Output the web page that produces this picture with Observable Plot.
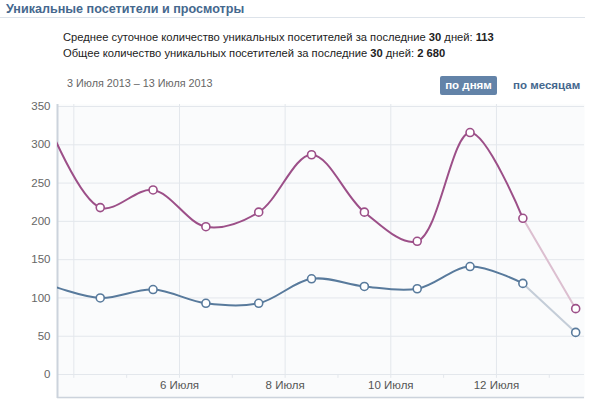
<!DOCTYPE html>
<html><head><meta charset="utf-8">
<script src="https://cdn.jsdelivr.net/npm/d3@7"></script>
<script src="https://cdn.jsdelivr.net/npm/@observablehq/plot@0.6"></script>
<style>
body{margin:0;width:604px;height:399px;background:#fff;position:relative;overflow:hidden;font-family:"Liberation Sans",Arial,sans-serif;}
.abs{position:absolute;white-space:nowrap;line-height:1;}
#title{left:6px;top:3px;font-size:12.6px;font-weight:bold;color:#45688e;}
#rule{left:0;top:17px;width:585px;height:1px;background:#dde3ea;}
#s1{left:63px;top:32px;font-size:11.2px;color:#222;}
#s2{left:63px;top:48px;font-size:11.2px;color:#222;}
#date{left:67px;top:78px;font-size:10.8px;color:#666;}
#btn{left:440px;top:76px;width:57px;height:19px;background:#6383a8;border-radius:2px;color:#fff;font-size:11.5px;font-weight:bold;text-align:center;line-height:19px;}
#mon{left:513px;top:80px;font-size:11.5px;font-weight:bold;color:#45688e;}
#chart{position:absolute;left:0;top:95px;}
b{font-weight:bold;}
</style></head>
<body>
<div class="abs" id="title">Уникальные посетители и просмотры</div>
<div class="abs" id="rule"></div>
<div class="abs" id="s1">Среднее суточное количество уникальных посетителей за последние <b>30</b> дней: <b>113</b></div>
<div class="abs" id="s2">Общее количество уникальных посетителей за последние <b>30</b> дней: <b>2 680</b></div>
<div class="abs" id="date">3 Июля 2013 – 13 Июля 2013</div>
<div class="abs" id="btn">по дням</div>
<div class="abs" id="mon">по месяцам</div>
<div id="chart"></div>
<script>
// Day of July 2013 for each point (drawn at noon); the first one lies just left of the visible window
const days = [3, 4, 5, 6, 7, 8, 9, 10, 11, 12, 13];
const visitors = [118, 100, 111, 93, 93, 125, 115, 112, 141, 119, 55];
const views = [330, 218, 241, 193, 212, 287, 212, 174, 316, 204, 86];
const yTicks = [0, 50, 100, 150, 200, 250, 300, 350];
const gridDays = [4, 6, 8, 10, 12];
const minorDays = [5, 7, 9, 11, 13];
const labelDays = [6, 8, 10, 12];
const monthName = "Июля";

const noon = d => new Date(Date.UTC(2013, 6, d, 12));
const midnight = d => new Date(Date.UTC(2013, 6, d));
const xDomain = [new Date(Date.UTC(2013, 6, 3, 16, 35)), new Date(Date.UTC(2013, 6, 13, 16, 0))];

const rows = [];
days.forEach((d, i) => {
  rows.push({date: noon(d), value: views[i], series: "views", i});
  rows.push({date: noon(d), value: visitors[i], series: "visitors", i});
});
const last = days.length - 1;
const mainRows = rows.filter(r => r.i <= last - 1);
const tailRows = rows.filter(r => r.i >= last - 1);
const dotRows = rows.filter(r => r.i >= 1);

const dark = {views: "#9c4f88", visitors: "#587a9c"};
const faded = {views: "#dcbfd0", visitors: "#c4cdd8"};

const chart = Plot.plot({
  width: 604, height: 304,
  marginLeft: 57, marginRight: 20, marginTop: 9, marginBottom: 1,
  style: {fontFamily: "Liberation Sans, Arial, sans-serif", background: "transparent"},
  x: {type: "utc", domain: xDomain, axis: null},
  y: {domain: [-31.3, 352.6], axis: null},
  marks: [
    Plot.frame({fill: "#fafbfc", stroke: null}),
    Plot.ruleY(yTicks, {stroke: "#e3e7ec"}),
    Plot.ruleX(gridDays, {x: midnight, y1: -5, y2: 352.6, stroke: "#e3e7ec"}),
    Plot.ruleX(minorDays, {x: midnight, y1: -5, y2: 0, stroke: "#e3e7ec"}),
    Plot.ruleX([xDomain[0]], {stroke: "#ccd3dc", strokeWidth: 2}),
    Plot.ruleY([-30], {stroke: "#ccd3dc", strokeWidth: 1.5}),
    Plot.text(yTicks, {x: xDomain[0], y: d => d, text: d => String(d), textAnchor: "end", dx: -7, fill: "#666", fontSize: 11.5}),
    Plot.text(labelDays, {x: midnight, y: -14.4, text: d => `${d} ${monthName}`, fill: "#555", fontSize: 11.5}),
    Plot.line(tailRows, {x: "date", y: "value", z: "series", stroke: r => faded[r.series], strokeWidth: 2, curve: "catmull-rom", clip: true}),
    Plot.line(mainRows, {x: "date", y: "value", z: "series", stroke: r => dark[r.series], strokeWidth: 2, curve: "catmull-rom", clip: true}),
    Plot.dot(dotRows, {x: "date", y: "value", r: 4, fill: "#fff", stroke: r => dark[r.series], strokeWidth: 1.6, clip: true})
  ]
});
document.getElementById("chart").appendChild(chart);
</script>
</body></html>
